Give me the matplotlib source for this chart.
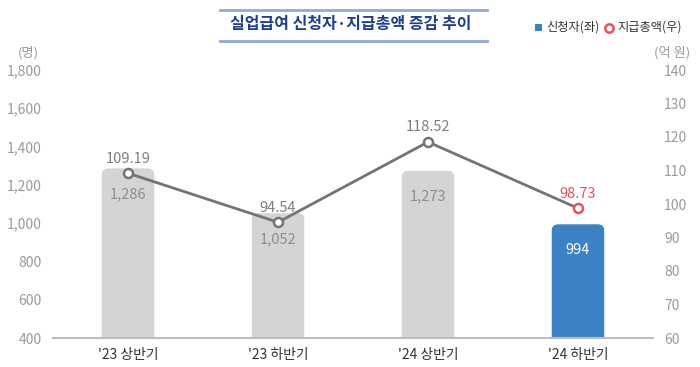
import matplotlib
matplotlib.use("Agg")
import matplotlib.pyplot as plt
from matplotlib.patches import FancyBboxPatch, Rectangle
from matplotlib.lines import Line2D

plt.rcParams['font.family'] = ['Noto Sans CJK KR', 'DejaVu Sans']

categories = ["'23 상반기", "'23 하반기", "'24 상반기", "'24 하반기"]
applicants = [1286, 1052, 1273, 994]
totals = [109.19, 94.54, 118.52, 98.73]
applicant_labels = ["1,286", "1,052", "1,273", "994"]
total_labels = ["109.19", "94.54", "118.52", "98.73"]
left_ticks = [400, 600, 800, 1000, 1200, 1400, 1600, 1800]
right_ticks = [60, 70, 80, 90, 100, 110, 120, 130, 140]

GRAY_BAR = "#d4d4d6"
BLUE = "#3c82c4"
RED = "#e8525a"
TICK_C = "#9a9a9a"
LINE_C = "#747474"

fig = plt.figure(figsize=(7, 3.67), dpi=100)
ax = fig.add_axes([53/700, 29/367, 600/700, 268/367])
ax2 = ax.twinx()

x = list(range(len(categories)))
ax.set_xlim(-0.5, len(categories) - 0.5)
ax.set_ylim(400, 1800)
ax2.set_ylim(60, 140)

bar_colors = [GRAY_BAR, GRAY_BAR, GRAY_BAR, BLUE]
bars = ax.bar(x, applicants, width=0.35, bottom=0, color=bar_colors)
# replace with rounded-top bars
for b, c in zip(bars, bar_colors):
    b.set_visible(False)
    bx, by = b.get_x(), b.get_y()
    bw, bh = b.get_width(), b.get_height()
    rad = 0.045
    asp = 31.0 / 0.045
    p = FancyBboxPatch((bx, by), bw, bh,
                       boxstyle=f"round,pad=0,rounding_size={rad}",
                       mutation_aspect=asp, facecolor=c, edgecolor="none",
                       zorder=2)
    ax.add_patch(p)

for xi, v, lab, c in zip(x, applicants, applicant_labels, bar_colors):
    ax.text(xi, v - 135, lab, ha="center", va="center", fontsize=10.5,
            color="white" if c == BLUE else "#8e8e8e", zorder=5)

ax2.plot(x, totals, color=LINE_C, lw=2, zorder=3)
edge = [LINE_C, LINE_C, LINE_C, RED]
for xi, v, lab, ec in zip(x, totals, total_labels, edge):
    ax2.plot(xi, v, marker="o", ms=6.5, mfc="white", mec=ec, mew=1.8, zorder=4)
    ax2.text(xi, v + 2.3, lab, ha="center", va="bottom", fontsize=10.5,
             color=RED if ec == RED else "#7e7e7e", zorder=5)

for a in (ax, ax2):
    for s in ("top", "left", "right", "bottom"):
        a.spines[s].set_visible(False)
    a.tick_params(length=0)

ax.axhline(400, color="#bdbdbd", lw=1.5, zorder=6, clip_on=False)

ax.set_yticks(left_ticks)
ax.set_yticklabels([f"{t:,}" for t in left_ticks], fontsize=10, color=TICK_C)
ax.tick_params(axis="y", pad=8)
ax2.set_yticks(right_ticks)
ax2.set_yticklabels([str(t) for t in right_ticks], fontsize=10, color=TICK_C)
ax2.tick_params(axis="y", pad=8)
ax.set_xticks(x)
ax.set_xticklabels(categories, fontsize=10, color="#333333")
ax.tick_params(axis="x", pad=7)

# unit labels
fig.text(28/700, 1 - 53/367, "(명)", fontsize=9.5, color=TICK_C, ha="center", va="center")
fig.text(672/700, 1 - 53/367, "(억 원)", fontsize=9.5, color=TICK_C, ha="center", va="center")

# title with rules
fig.text(351/700, 1 - 24/367, "실업급여 신청자·지급총액 증감 추이", fontsize=11.5,
         fontweight="bold", color="#1f3f86", ha="center", va="center")
fig.add_artist(Line2D([220/700, 487/700], [1 - 10/367, 1 - 10/367],
                      color="#93a9d6", lw=2))
fig.add_artist(Line2D([220/700, 487/700], [1 - 41/367, 1 - 41/367],
                      color="#93a9d6", lw=2))

# legend
fig.add_artist(Rectangle((535/700, 1 - 31/367), 7/700, 7/367,
                         facecolor=BLUE, edgecolor="none", transform=fig.transFigure))
fig.text(546/700, 1 - 27.5/367, "신청자(좌)", fontsize=8.8, color="#333333",
         ha="left", va="center")
fig.add_artist(Line2D([609/700], [1 - 27.5/367], marker="o", ms=6, mfc="white",
                      mec=RED, mew=1.8, transform=fig.transFigure))
fig.text(617/700, 1 - 27.5/367, "지급총액(우)", fontsize=8.8, color="#333333",
         ha="left", va="center")

fig.savefig("out.png", dpi=100)
